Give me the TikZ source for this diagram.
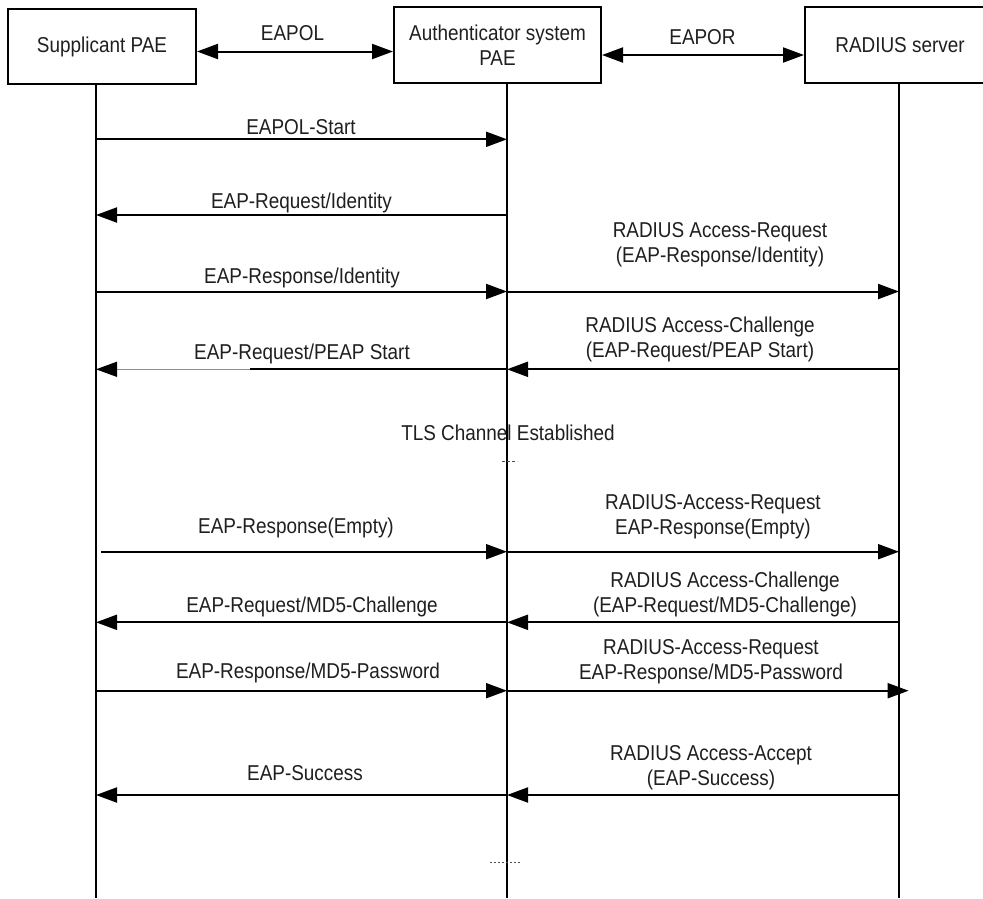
\documentclass[tikz,border=0pt]{standalone}
\usepackage{fontspec}
\setmainfont{Liberation Sans}[FakeStretch=0.88]
\usetikzlibrary{arrows.meta}
\newcommand\rowpts[2]{\coordinate (s#1) at (96,#2); \coordinate (a#1) at (507,#2); \coordinate (r#1) at (899,#2);}
\begin{document}
\begin{tikzpicture}[x=1pt,y=-1pt,
  font=\fontsize{21.5}{25}\selectfont,
  box/.style={draw, line width=2pt, align=center, inner sep=0pt},
  life/.style={line width=2pt},
  msg/.style={line width=2pt, -{Triangle[length=21pt,width=15pt]}},
  both/.style={line width=2pt, {Triangle[length=21pt,width=15pt]}-{Triangle[length=21pt,width=15pt]}},
  lab/.style={inner sep=0pt, align=center, text=black!88}]
\clip (0,0) rectangle (983,898);
\fill[white] (0,0) rectangle (983,898);
% boxes
\node[box, minimum width=188pt, minimum height=75pt, text=black!88] (sup) at (102,46.5) {Supplicant PAE};
\node[box, minimum width=207pt, minimum height=76pt, text=black!88] (auth) at (497.5,45) {Authenticator system\\PAE};
\node[box, minimum width=190pt, minimum height=76pt, text=black!88] (rad) at (900,45) {RADIUS server};
% top links
\draw[both] (sup.east |- 0,51.5) -- (auth.west |- 0,51.5);
\node[lab] (eapol) at (292.5,33) {EAPOL};
\draw[both] (auth.east |- 0,55) -- (rad.west |- 0,55);
\node[lab] (eapor) at (702.5,36.7) {EAPOR};
% lifelines
\coordinate (sB) at (96,898);
\coordinate (aB) at (507,898);
\coordinate (rB) at (899,898);
\draw[life] (sup.south -| sB) -- (sB);
\draw[life] (auth.south -| aB) -- (aB);
\draw[life] (rad.south -| rB) -- (rB);
% rows
\rowpts{1}{139.3}
\rowpts{2}{215}
\rowpts{3}{291.5}
\rowpts{4}{369.3}
\rowpts{5}{551.7}
\rowpts{6}{622.3}
\rowpts{7}{690.7}
\rowpts{8}{795}
% 1
\node[lab] (l1) at (301,126.7) {EAPOL-Start};
\draw[msg] (s1) -- (a1);
% 2
\node[lab] (l2) at (301.5,202.7) {EAP-Request/Identity};
\draw[msg] (a2) -- (s2);
% 3
\node[lab] (l3) at (302,278) {EAP-Response/Identity};
\node[lab] (r3l) at (720,245) {RADIUS Access-Request\\(EAP-Response/Identity)};
\draw[msg] (s3) -- (a3);
\draw[msg] (a3) -- (r3);
% 4
\node[lab] (l4) at (302,354) {EAP-Request/PEAP Start};
\node[lab] (r4l) at (700,339) {RADIUS Access-Challenge\\(EAP-Request/PEAP Start)};
\draw[msg] (r4) -- (a4);
\coordinate (g4) at (250,369.3);
\draw[line width=2pt] (a4) -- (g4);
\draw[line width=1.2pt, black!45, -{Triangle[length=21pt,width=15pt,color=black]}] (g4) -- (s4);
% TLS
\node[lab] (tls) at (508,433.3) {TLS Channel Established};
\coordinate (t1) at (502,461.7);
\coordinate (t2) at (517,461.7);
\draw[line width=0.8pt, dash pattern=on 3pt off 2pt, black!70] (t1) -- (t2);
% 5
\coordinate (s5b) at (101,551.7);
\node[lab] (l5) at (296,528.3) {EAP-Response(Empty)};
\node[lab] (r5l) at (713,517) {RADIUS-Access-Request\\EAP-Response(Empty)};
\draw[msg] (s5b) -- (a5);
\draw[msg] (a5) -- (r5);
% 6
\node[lab] (l6) at (312,607.3) {EAP-Request/MD5-Challenge};
\node[lab] (r6l) at (725,594.7) {RADIUS Access-Challenge\\(EAP-Request/MD5-Challenge)};
\draw[msg] (r6) -- (a6);
\draw[msg] (a6) -- (s6);
% 7
\coordinate (r7b) at (908.6,690.7);
\node[lab] (l7) at (308,672.7) {EAP-Response/MD5-Password};
\node[lab] (r7l) at (711,662) {RADIUS-Access-Request\\EAP-Response/MD5-Password};
\draw[msg] (s7) -- (a7);
\draw[msg] (a7) -- (r7b);
% 8
\node[lab] (l8) at (305,773.3) {EAP-Success};
\node[lab] (r8l) at (711,767.5) {RADIUS Access-Accept\\(EAP-Success)};
\draw[msg] (r8) -- (a8);
\draw[msg] (a8) -- (s8);
% dots
\coordinate (d1) at (490,862.7);
\coordinate (d2) at (521,862.7);
\draw[line width=0.8pt, dash pattern=on 2pt off 2pt, black!70] (d1) -- (d2);
\end{tikzpicture}
\end{document}
